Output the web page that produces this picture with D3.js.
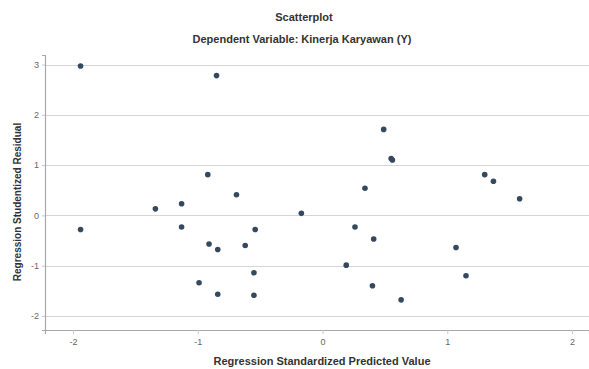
<!DOCTYPE html>
<html>
<head>
<meta charset="utf-8">
<script src="https://cdn.jsdelivr.net/npm/d3@7"></script>
<style>
  body { margin: 0; background: #fff; }
  text { font-family: "Liberation Sans", Arial, sans-serif; }
</style>
</head>
<body>
<div id="chart"></div>
<script>
// standardized predicted value (x) and studentized residual (y)
const predicted = [-1.94, -0.85, -0.92, -0.69, 0.49, 0.55, 0.56, 0.34, 1.30, 1.37, 1.58,
    -1.34, -1.13, -0.17, -1.94, -1.13, -0.54, -0.91, -0.84, -0.62, -0.55, -0.99, -0.84, -0.55,
    0.26, 0.41, 1.07, 0.19, 1.15, 0.40, 0.63];
const residual = [2.97, 2.78, 0.81, 0.41, 1.71, 1.13, 1.10, 0.54, 0.81, 0.68, 0.33,
    0.13, 0.23, 0.04, -0.28, -0.23, -0.28, -0.57, -0.68, -0.60, -1.14, -1.34, -1.57, -1.59,
    -0.23, -0.47, -0.64, -0.99, -1.20, -1.40, -1.68];
const xTicks = [-2, -1, 0, 1, 2];
const yTicks = [-2, -1, 0, 1, 2, 3];

const width = 589;
const height = 369;
const margin = { top: 55, right: 0, bottom: 39, left: 45 };

const svg = d3.select('#chart')
    .append('svg')
    .attr('width', width)
    .attr('height', height);

const x = d3.scaleLinear()
    .domain([-2.225, 2.136])
    .range([margin.left, width - margin.right]);

const y = d3.scaleLinear()
    .domain([-2.28, 3.19])
    .range([height - margin.bottom, margin.top]);

// grid lines
svg.append('g')
    .selectAll('line')
    .data(yTicks)
    .join('line')
    .attr('x1', margin.left)
    .attr('x2', width - margin.right)
    .attr('y1', d => Math.round(y(d)) + 0.5)
    .attr('y2', d => Math.round(y(d)) + 0.5)
    .attr('stroke', '#d6d6d6')
    .attr('stroke-width', 1.2);

function xAxis(g) {
    g.attr('transform', `translate(0,${height - margin.bottom})`)
        .call(d3.axisBottom(x).tickValues(xTicks).tickSize(4).tickPadding(5).tickFormat(d => String(d)))
        .attr('font-size', '9px');
    g.select('.domain').attr('stroke', '#a8a8a8').attr('stroke-width', 1.2);
    g.selectAll('.tick line').attr('stroke', '#c8c8c8');
    g.selectAll('.tick text').attr('fill', '#666');
}

function yAxis(g) {
    g.attr('transform', `translate(${margin.left},0)`)
        .call(d3.axisLeft(y).tickValues(yTicks).tickSize(3).tickPadding(3).tickFormat(d => String(d)))
        .attr('font-size', '9px');
    g.select('.domain').attr('stroke', '#a8a8a8').attr('stroke-width', 1.2);
    g.selectAll('.tick line').attr('stroke', '#c8c8c8');
    g.selectAll('.tick text').attr('fill', '#666');
}

svg.append('g').call(xAxis);
svg.append('g').call(yAxis);

svg.append('g')
    .attr('fill', '#34495e')
    .selectAll('circle')
    .data(predicted.map((p, i) => [p, residual[i]]))
    .join('circle')
    .attr('cx', d => x(d[0]))
    .attr('cy', d => y(d[1]))
    .attr('r', 2.8);

svg.append('text')
    .attr('x', 304)
    .attr('y', 21)
    .attr('text-anchor', 'middle')
    .attr('font-size', '11px')
    .attr('font-weight', 'bold')
    .attr('fill', '#333')
    .text('Scatterplot');

svg.append('text')
    .attr('x', 302)
    .attr('y', 43)
    .attr('text-anchor', 'middle')
    .attr('font-size', '11px')
    .attr('font-weight', 'bold')
    .attr('fill', '#333')
    .text('Dependent Variable: Kinerja Karyawan (Y)');

svg.append('text')
    .attr('x', 322)
    .attr('y', 365)
    .attr('text-anchor', 'middle')
    .attr('font-size', '11px')
    .attr('font-weight', 'bold')
    .attr('fill', '#333')
    .text('Regression Standardized Predicted Value');

svg.append('text')
    .attr('transform', 'translate(21,202) rotate(-90)')
    .attr('text-anchor', 'middle')
    .attr('font-size', '10px')
    .attr('font-weight', 'bold')
    .attr('fill', '#333')
    .text('Regression Studentized Residual');
</script>
</body>
</html>
